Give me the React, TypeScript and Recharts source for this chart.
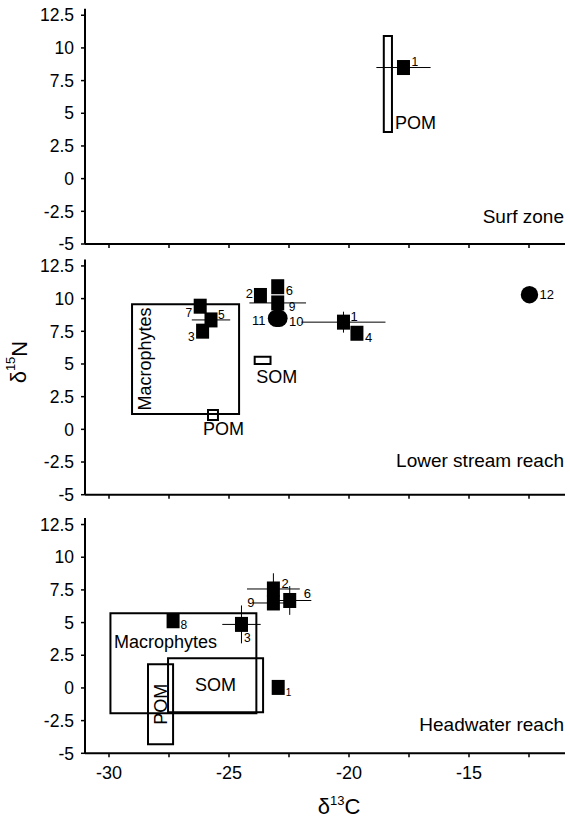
import React from "react";
import { ScatterChart, Scatter, XAxis, YAxis, ErrorBar, ReferenceArea } from "recharts";

const FONT = '"Liberation Sans", Arial, Helvetica, sans-serif';

const cTicks = [-30, -27.5, -25, -22.5, -20, -17.5, -15, -12.5];
const nTicks = [-5, -2.5, 0, 2.5, 5, 7.5, 10, 12.5];

// Surf zone
const surfIds = ["1"];
const surfC = [-17.73];
const surfN = [8.5];
const surfErrC = [1.13];
const surfErrN = [0];
const surfBoxNames = ["POM"];
const surfBoxC = [[-18.55, -18.21]];
const surfBoxN = [[3.57, 10.92]];

// Lower stream reach
const lowerSqIds = ["1", "2", "3", "4", "5", "6", "7", "9"];
const lowerSqC = [-20.23, -23.69, -26.1, -19.67, -25.75, -22.97, -26.2, -22.97];
const lowerSqN = [8.2, 10.24, 7.51, 7.35, 8.37, 10.91, 9.42, 9.67];
const lowerSqErrC = [1.75, 0, 0, 0, 0.8, 0, 0, 1.18];
const lowerSqErrN = [0.8, 0, 0, 0, 0, 0, 0, 0];
const lowerCirIds = ["11", "10", "12"];
const lowerCirC = [-23.02, -22.92, -12.48];
const lowerCirN = [8.5, 8.5, 10.3];
const lowerBoxNames = ["Macrophytes", "POM", "SOM"];
const lowerBoxC = [[-29.04, -24.58], [-25.875, -25.46], [-23.93, -23.27]];
const lowerBoxN = [[1.18, 9.57], [0.72, 1.48], [5.0, 5.56]];

// Headwater reach
const headIds = ["1", "2", "3", "6", "8", "9"];
const headC = [-22.95, -23.15, -24.48, -22.47, -27.33, -23.15];
const headN = [0.04, 7.57, 4.86, 6.69, 5.14, 6.5];
const headErrC = [0, 1.1, 0.8, 0.9, 0, 0.85];
const headErrN = [0, 1.2, 1.45, 1.1, 0, 0];
const headBoxNames = ["Macrophytes", "SOM", "POM"];
const headBoxC = [[-29.94, -23.86], [-27.54, -23.58], [-28.375, -27.33]];
const headBoxN = [[-1.94, 5.71], [-1.86, 2.27], [-4.31, 1.81]];

// where the number sits next to each marker: dx, dy, anchor, font size
const labelAt: Record<string, [number, number, "start" | "end", number]> = {
  "surf:1": [8, -6, "start", 12],
  "lower:7": [-8, 7, "end", 12],
  "lower:5": [7, -4.5, "start", 12],
  "lower:3": [-8, 6, "end", 12],
  "lower:2": [-7.5, -2, "end", 13],
  "lower:6": [8, 3.5, "start", 13],
  "lower:9": [11, 4, "start", 12],
  "lower:11": [-11, 2, "end", 13],
  "lower:10": [10, 3, "start", 13],
  "lower:1": [7, -5.5, "start", 13],
  "lower:4": [8, 4, "start", 13],
  "lower:12": [10, 0, "start", 13],
  "head:8": [7.5, 4, "start", 12],
  "head:3": [2.5, 14, "start", 12],
  "head:2": [8, -5, "start", 13],
  "head:9": [-18.8, 0, "end", 13],
  "head:6": [14, -6.5, "start", 13],
  "head:1": [7.5, 5, "start", 10],
};

const rows = (ids: string[], c: number[], n: number[], ec?: number[], en?: number[]) =>
  ids.map((id, i) => ({ id, x: c[i], y: n[i], ex: ec ? ec[i] : 0, ey: en ? en[i] : 0 }));

const makeShape = (panel: string, kind: "square" | "circle") => (props: any) => {
  const { cx, cy, payload } = props;
  const [dx, dy, anchor, fs] = labelAt[`${panel}:${payload.id}`] ?? [9, 0, "start", 12];
  return (
    <g>
      {kind === "square" ? (
        <rect x={cx - 6.5} y={cy - 7.5} width={13} height={15} fill="#000" />
      ) : (
        <circle cx={cx} cy={cy} r={8.7} fill="#000" />
      )}
      <text x={cx + dx} y={cy + dy} textAnchor={anchor} dominantBaseline="central" fontSize={fs} fontFamily={FONT} fill="#000">
        {payload.id}
      </text>
    </g>
  );
};

// label placement for source boxes
const boxPlace: Record<string, string> = {
  "surf:POM": "outRight",
  "lower:Macrophytes": "rotLeft",
  "lower:POM": "belowPom",
  "lower:SOM": "belowSom",
  "head:Macrophytes": "insideTop",
  "head:SOM": "center",
  "head:POM": "rotCenter",
};

const boxLabel = (text: string, mode: string) => (props: any) => {
  const { x, y, width, height } = props.viewBox;
  const t = { fontFamily: FONT, fontSize: 18, fill: "#000" };
  if (mode === "outRight") return <text x={x + width + 3} y={y + height - 3} {...t}>{text}</text>;
  if (mode === "belowPom") return <text x={x - 5} y={y + height + 15.5} {...t}>{text}</text>;
  if (mode === "belowSom") return <text x={x + 1.5} y={y + height + 19} {...t}>{text}</text>;
  if (mode === "insideTop") return <text x={x + 3.5} y={y + 34.5} {...t}>{text}</text>;
  if (mode === "center")
    return <text x={x + width / 2} y={y + height / 2} textAnchor="middle" dominantBaseline="central" {...t}>{text}</text>;
  const tx = mode === "rotLeft" ? x + 13 : x + width / 2;
  const ty = y + height / 2;
  return (
    <text x={tx} y={ty} transform={`rotate(-90 ${tx} ${ty})`} textAnchor="middle" dominantBaseline="central" {...t}>
      {text}
    </text>
  );
};

const renderBoxes = (panel: string, names: string[], cs: number[][], ns: number[][]) =>
  names.map((name, i) => (
    <ReferenceArea
      key={name}
      x1={cs[i][0]}
      x2={cs[i][1]}
      y1={ns[i][0]}
      y2={ns[i][1]}
      fill="none"
      fillOpacity={0}
      stroke="#000"
      strokeWidth={2}
      ifOverflow="visible"
      label={boxLabel(name, boxPlace[`${panel}:${name}`])}
    />
  ));

const xTickFmt = (v: number) => (v % 5 === 0 ? String(v) : "");

const xLabel = (props: any) => {
  const { x, y, width } = props.viewBox;
  const cx = x + width / 2 + 14;
  return (
    <text x={cx} y={y + 61} textAnchor="middle" fontFamily={FONT} fontSize={22} fill="#000">
      δ<tspan fontSize={13} dy={-9}>13</tspan>
      <tspan dy={9}>C</tspan>
    </text>
  );
};

const yLabel = (props: any) => {
  const { y, height } = props.viewBox;
  const tx = 19;
  const ty = y + height / 2 - 15;
  return (
    <text x={tx} y={ty} transform={`rotate(-90 ${tx} ${ty})`} textAnchor="middle" dominantBaseline="central" fontFamily={FONT} fontSize={22} fill="#000">
      δ<tspan fontSize={13} dy={-9}>15</tspan>
      <tspan dy={9}>N</tspan>
    </text>
  );
};

type PanelProps = {
  top: number;
  height: number;
  margin: { top: number; right: number; bottom: number; left: number };
  xHeight: number;
  bottom?: boolean;
  yTitle?: boolean;
  children: React.ReactNode;
};

function Panel({ top, height, margin, xHeight, bottom, yTitle, children }: PanelProps) {
  return (
    <div style={{ position: "absolute", left: 0, top, width: 570, height }}>
      <ScatterChart width={570} height={height} margin={margin}>
        <XAxis
          type="number"
          dataKey="x"
          domain={[-31, -11]}
          ticks={cTicks}
          allowDataOverflow
          height={xHeight}
          axisLine={{ stroke: "#000", strokeWidth: 2 }}
          tickLine={{ stroke: "#000", strokeWidth: 1.5 }}
          tickSize={4}
          tickMargin={9}
          tickFormatter={bottom ? xTickFmt : () => ""}
          tick={{ fill: "#000", fontSize: 18, fontFamily: FONT }}
          label={bottom ? xLabel : undefined}
        />
        <YAxis
          type="number"
          dataKey="y"
          domain={[-5, 13]}
          ticks={nTicks}
          allowDataOverflow
          width={85}
          axisLine={{ stroke: "#000", strokeWidth: 2 }}
          tickLine={{ stroke: "#000", strokeWidth: 1.5 }}
          tickSize={4}
          tickMargin={7}
          tick={{ fill: "#000", fontSize: 17.5, fontFamily: FONT }}
          label={yTitle ? yLabel : undefined}
        />
        {children}
      </ScatterChart>
    </div>
  );
}

const titleStyle = (top: number): React.CSSProperties => ({
  position: "absolute",
  right: 6,
  top,
  fontFamily: FONT,
  fontSize: 19,
  lineHeight: "22px",
  color: "#000",
  whiteSpace: "nowrap",
});

export default function App() {
  const surf = rows(surfIds, surfC, surfN, surfErrC, surfErrN);
  const lowerSq = rows(lowerSqIds, lowerSqC, lowerSqN, lowerSqErrC, lowerSqErrN);
  const lowerCir = rows(lowerCirIds, lowerCirC, lowerCirN);
  const head = rows(headIds, headC, headN, headErrC, headErrN);

  return (
    <div style={{ position: "absolute", left: 0, top: 0, width: 570, height: 818, background: "#fff", fontFamily: FONT }}>
      <Panel top={0} height={270} margin={{ top: 8.7, right: 5, bottom: 6, left: 0 }} xHeight={20}>
        {renderBoxes("surf", surfBoxNames, surfBoxC, surfBoxN)}
        <Scatter data={surf} shape={makeShape("surf", "square")} isAnimationActive={false}>
          <ErrorBar dataKey="ex" direction="x" width={0} stroke="#000" strokeWidth={1} />
        </Scatter>
      </Panel>
      <Panel top={250} height={270} margin={{ top: 9.4, right: 5, bottom: 5.3, left: 0 }} xHeight={20} yTitle>
        {renderBoxes("lower", lowerBoxNames, lowerBoxC, lowerBoxN)}
        <Scatter data={lowerSq} shape={makeShape("lower", "square")} isAnimationActive={false}>
          <ErrorBar dataKey="ex" direction="x" width={0} stroke="#000" strokeWidth={1} />
          <ErrorBar dataKey="ey" direction="y" width={0} stroke="#000" strokeWidth={1} />
        </Scatter>
        <Scatter data={lowerCir} shape={makeShape("lower", "circle")} isAnimationActive={false} />
      </Panel>
      <Panel top={505} height={313} margin={{ top: 13, right: 5, bottom: 4.7, left: 0 }} xHeight={60} bottom>
        {renderBoxes("head", headBoxNames, headBoxC, headBoxN)}
        <Scatter data={head} shape={makeShape("head", "square")} isAnimationActive={false}>
          <ErrorBar dataKey="ex" direction="x" width={0} stroke="#000" strokeWidth={1} />
          <ErrorBar dataKey="ey" direction="y" width={0} stroke="#000" strokeWidth={1} />
        </Scatter>
      </Panel>
      <div style={titleStyle(206)}>Surf zone</div>
      <div style={titleStyle(450)}>Lower stream reach</div>
      <div style={titleStyle(714)}>Headwater reach</div>
    </div>
  );
}
